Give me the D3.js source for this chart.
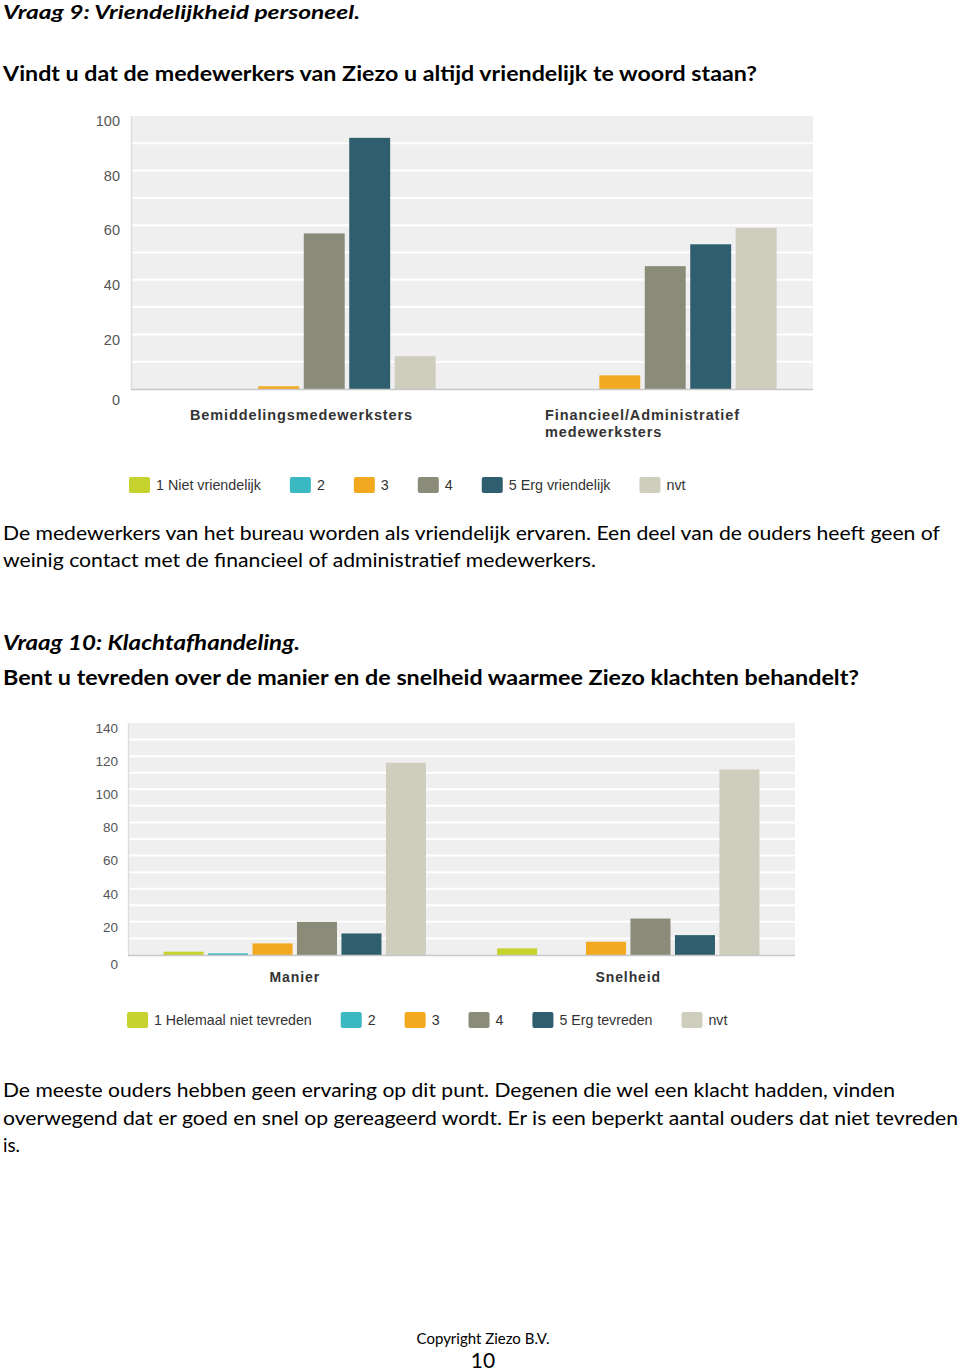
<!DOCTYPE html>
<html>
<head>
<meta charset="utf-8">
<script src="https://cdn.jsdelivr.net/npm/d3@7/dist/d3.min.js"></script>
<style>
  body { margin: 0; background: #ffffff; }
  svg { display: block; }
  .doc { font-family: Lato, "Open Sans", sans-serif; fill: #000; }
  .chart text { font-family: "Liberation Sans", Arial, sans-serif; }
</style>
</head>
<body>
<script>
// ---------- Data ----------
const q9Categories = ["Bemiddelingsmedewerksters", "Financieel/Administratief medewerksters"];
const q9Series = ["1 Niet vriendelijk", "2", "3", "4", "5 Erg vriendelijk", "nvt"];
const q9NietVriendelijk = [0, 0];
const q9Twee = [0, 0];
const q9Drie = [1, 5];
const q9Vier = [57, 45];
const q9ErgVriendelijk = [92, 53];
const q9Nvt = [12, 59];
const q9Ticks = [0, 20, 40, 60, 80, 100];

const q10Categories = ["Manier", "Snelheid"];
const q10Series = ["1 Helemaal niet tevreden", "2", "3", "4", "5 Erg tevreden", "nvt"];
const q10NietTevreden = [2, 4];
const q10Twee = [1, 0];
const q10Drie = [7, 8];
const q10Vier = [20, 22];
const q10ErgTevreden = [13, 12];
const q10Nvt = [116, 112];
const q10Ticks = [0, 20, 40, 60, 80, 100, 120, 140];

const seriesColors = ["#c6d22e", "#3bb9c3", "#f3a91f", "#8a8b79", "#2f5f6e", "#cfcdbd"];

// ---------- Page ----------
const svg = d3.select("body").append("svg")
  .attr("width", 960).attr("height", 1371);

function docText(str, x, y, size, weight, style, width) {
  const t = svg.append("text").attr("class", "doc")
    .attr("x", x).attr("y", y)
    .style("font-size", size + "px")
    .style("font-weight", weight)
    .style("font-style", style)
    .text(str);
  if (width) t.attr("textLength", width).attr("lengthAdjust", "spacingAndGlyphs");
  return t;
}

docText("Vraag 9: Vriendelijkheid personeel.", 3, 18.5, 18.5, "bold", "italic", 357);
docText("Vindt u dat de medewerkers van Ziezo u altijd vriendelijk te woord staan?", 3, 81, 20, "bold", "normal", 754);
docText("De medewerkers van het bureau worden als vriendelijk ervaren. Een deel van de ouders heeft geen of", 3, 540, 18.5, "normal", "normal", 937);
docText("weinig contact met de financieel of administratief medewerkers.", 3, 567, 18.5, "normal", "normal", 593);
docText("Vraag 10: Klachtafhandeling.", 3, 650, 20, "bold", "italic", 297);
docText("Bent u tevreden over de manier en de snelheid waarmee Ziezo klachten behandelt?", 3, 685, 20, "bold", "normal", 856);
docText("De meeste ouders hebben geen ervaring op dit punt. Degenen die wel een klacht hadden, vinden", 3, 1097, 18.5, "normal", "normal", 892);
docText("overwegend dat er goed en snel op gereageerd wordt. Er is een beperkt aantal ouders dat niet tevreden", 3, 1125, 18.5, "normal", "normal", 955);
docText("is.", 3, 1152, 18.5, "normal", "normal", 17);
docText("Copyright Ziezo B.V.", 483, 1344, 15, "normal", "normal").attr("text-anchor", "middle");
docText("10", 483, 1368, 21, "normal", "normal").attr("text-anchor", "middle");

// ---------- Chart ----------
function barChart(cfg) {
  const g = svg.append("g").attr("class", "chart");
  const x0 = d3.scaleBand().domain(cfg.categories).range([cfg.left, cfg.right]).padding(0);
  const x1 = d3.scaleBand().domain(cfg.series).range([0, x0.bandwidth()])
    .paddingInner(0.1).paddingOuter(0.8);
  const y = d3.scaleLinear().domain([0, cfg.yMax]).range([cfg.bottom, cfg.top]);
  const color = d3.scaleOrdinal().domain(cfg.series).range(seriesColors);

  // plot background
  g.append("rect")
    .attr("x", cfg.left).attr("y", cfg.top)
    .attr("width", cfg.right - cfg.left).attr("height", cfg.bottom - cfg.top)
    .attr("fill", "#efefef");
  // gridlines
  g.selectAll("line.grid").data(d3.range(10, cfg.yMax, 10)).join("line")
    .attr("class", "grid")
    .attr("x1", cfg.left).attr("x2", cfg.right)
    .attr("y1", d => y(d)).attr("y2", d => y(d))
    .attr("stroke", "#ffffff").attr("stroke-width", 2);
  // left border
  g.append("line")
    .attr("x1", cfg.left + 0.5).attr("x2", cfg.left + 0.5)
    .attr("y1", cfg.top).attr("y2", cfg.bottom)
    .attr("stroke", "#dddddd").attr("stroke-width", 1.5);

  // bars
  const rows = [];
  cfg.series.forEach((s, i) => {
    cfg.values[i].forEach((v, j) => rows.push({ s, c: cfg.categories[j], v }));
  });
  g.selectAll("rect.bar").data(rows.filter(d => d.v > 0)).join("rect")
    .attr("class", "bar")
    .attr("x", d => x0(d.c) + x1(d.s))
    .attr("width", x1.bandwidth())
    .attr("y", d => y(d.v))
    .attr("height", d => y(0) - y(d.v))
    .attr("fill", d => color(d.s));

  // baseline
  g.append("line")
    .attr("x1", cfg.left).attr("x2", cfg.right)
    .attr("y1", y(0) + 0.5).attr("y2", y(0) + 0.5)
    .attr("stroke", "#c8c8c8").attr("stroke-width", 1.5);

  // y axis labels
  const ax = g.append("g")
    .call(d3.axisLeft(y).tickValues(cfg.ticks).tickSize(0).tickPadding(cfg.tickPad));
  ax.select(".domain").remove();
  ax.selectAll("text")
    .attr("x", cfg.left - cfg.tickPad)
    .attr("dy", "0.32em")
    .attr("y", cfg.tickShift)
    .style("font-size", cfg.tickFont + "px")
    .style("font-family", "'Liberation Sans', Arial, sans-serif")
    .attr("fill", "#555");
  ax.selectAll("text").filter(d => d === 0).attr("y", cfg.tickShift + cfg.zeroExtra);

  // category labels (wrapped, block centred, lines left-aligned)
  cfg.categories.forEach(cat => {
    const words = cat.split(" ");
    const lines = [];
    let cur = "";
    const probe = g.append("text")
      .style("font-size", cfg.labelFont + "px").style("font-weight", "bold")
      .style("letter-spacing", cfg.labelLS + "px");
    words.forEach(w => {
      const test = cur ? cur + " " + w : w;
      probe.text(test);
      if (cur && probe.node().getComputedTextLength() > cfg.wrapWidth) {
        lines.push(cur); cur = w;
      } else cur = test;
    });
    lines.push(cur);
    const widths = lines.map(l => { probe.text(l); return probe.node().getComputedTextLength(); });
    probe.remove();
    const blockW = d3.max(widths);
    const cx = x0(cat) + x0.bandwidth() / 2;
    const t = g.append("text")
      .attr("fill", "#333")
      .style("font-size", cfg.labelFont + "px").style("font-weight", "bold")
      .style("letter-spacing", cfg.labelLS + "px");
    lines.forEach((l, k) => {
      t.append("tspan")
        .attr("x", lines.length > 1 ? cx - blockW / 2 : cx)
        .attr("text-anchor", lines.length > 1 ? "start" : "middle")
        .attr("y", cfg.labelY + k * cfg.labelLH)
        .text(l);
    });
  });

  // legend
  let lx = cfg.legendX;
  cfg.series.forEach(s => {
    g.append("rect")
      .attr("x", lx).attr("y", cfg.legendY)
      .attr("width", 21).attr("height", 16).attr("rx", 2)
      .attr("fill", color(s));
    const t = g.append("text")
      .attr("x", lx + 27).attr("y", cfg.legendY + 13)
      .attr("fill", "#333")
      .style("font-size", cfg.legendFont + "px")
      .text(s);
    lx += 27 + t.node().getComputedTextLength() + 29;
  });
}

barChart({
  categories: q9Categories,
  series: q9Series,
  values: [q9NietVriendelijk, q9Twee, q9Drie, q9Vier, q9ErgVriendelijk, q9Nvt],
  ticks: q9Ticks, yMax: 100,
  left: 131, right: 813, top: 116, bottom: 389,
  tickPad: 11, tickShift: 5, zeroExtra: 6, tickFont: 14.5,
  labelFont: 14.5, labelLS: 0.9, labelY: 420, labelLH: 17, wrapWidth: 215,
  legendX: 129, legendY: 477, legendFont: 14.3
});

barChart({
  categories: q10Categories,
  series: q10Series,
  values: [q10NietTevreden, q10Twee, q10Drie, q10Vier, q10ErgTevreden, q10Nvt],
  ticks: q10Ticks, yMax: 140,
  left: 128, right: 795, top: 723, bottom: 955,
  tickPad: 10, tickShift: 5, zeroExtra: 4, tickFont: 13.5,
  labelFont: 14, labelLS: 0.9, labelY: 982, labelLH: 17, wrapWidth: 215,
  legendX: 127, legendY: 1012, legendFont: 14.2
});
</script>
</body>
</html>
